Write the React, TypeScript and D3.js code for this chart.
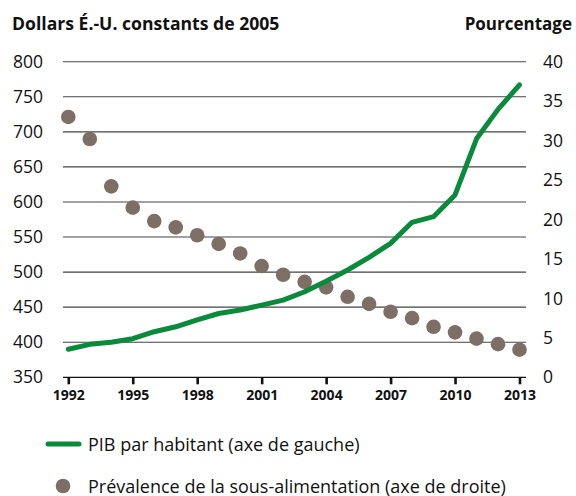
import React, { useEffect, useRef } from "react";
import * as d3 from "d3";

// PIB par habitant (dollars É.-U. constants de 2005), axe de gauche
const years = [1992, 1993, 1994, 1995, 1996, 1997, 1998, 1999, 2000, 2001, 2002,
  2003, 2004, 2005, 2006, 2007, 2008, 2009, 2010, 2011, 2012, 2013];
const gdp = [390, 397, 400, 405, 415, 422, 432, 441, 446, 453, 460,
  472, 487, 503, 521, 541, 571, 579, 610, 690, 732, 767];
// Prévalence de la sous-alimentation (%), axe de droite
const prevalence = [33.0, 30.2, 24.2, 21.5, 19.8, 19.0, 18.0, 16.9, 15.7, 14.1, 13.0,
  12.1, 11.4, 10.2, 9.3, 8.3, 7.5, 6.4, 5.7, 4.9, 4.2, 3.5];
const leftTicks = [350, 400, 450, 500, 550, 600, 650, 700, 750, 800];
const rightTicks = [0, 5, 10, 15, 20, 25, 30, 35, 40];
const xTicks = [1992, 1995, 1998, 2001, 2004, 2007, 2010, 2013];

const W = 576;
const H = 496;
const FONT = "'Open Sans', sans-serif";
const GREEN = "#0a8a3b";
const BROWN = "#7e6f66";

export default function App() {
  const ref = useRef<SVGSVGElement>(null);

  useEffect(() => {
    const svg = d3.select(ref.current);
    svg.selectAll("*").remove();

    const x = d3.scaleLinear().domain([1992, 2013]).range([68.3, 519.5]);
    const yL = d3.scaleLinear().domain([350, 800]).range([377.3, 61.7]);
    const yR = d3.scaleLinear().domain([0, 40]).range([377.3, 61.7]);
    const gridX0 = 63, gridX1 = 526;

    // titles
    svg.append("text").attr("x", 12).attr("y", 30)
      .attr("font-family", FONT).attr("font-weight", "bold").attr("font-size", 17.6)
      .attr("fill", "#111").text("Dollars É.-U. constants de 2005");
    svg.append("text").attr("x", 572).attr("y", 30).attr("text-anchor", "end")
      .attr("font-family", FONT).attr("font-weight", "bold").attr("font-size", 17)
      .attr("fill", "#111").text("Pourcentage");

    // gridlines
    svg.append("g").selectAll("line").data(leftTicks.slice(1)).join("line")
      .attr("x1", gridX0).attr("x2", gridX1)
      .attr("y1", d => yL(d)).attr("y2", d => yL(d))
      .attr("stroke", "#444").attr("stroke-width", 1.1);

    // left labels
    svg.append("g").selectAll("text").data(leftTicks).join("text")
      .attr("x", 43).attr("y", d => yL(d)).attr("dy", "0.35em")
      .attr("text-anchor", "end").attr("font-family", FONT).attr("font-size", 17.5)
      .attr("fill", "#111").text(d => d);

    // right labels
    svg.append("g").selectAll("text").data(rightTicks).join("text")
      .attr("x", 543).attr("y", d => yR(d)).attr("dy", "0.35em")
      .attr("text-anchor", "start").attr("font-family", FONT).attr("font-size", 17.5)
      .attr("fill", "#111").text(d => d);

    // x axis
    const xAxis = d3.axisBottom(x).tickValues(xTicks).tickFormat(d3.format("d"))
      .tickSize(7).tickPadding(6);
    const gx = svg.append("g").attr("transform", `translate(0,${yL(350)})`).call(xAxis);
    gx.select(".domain").attr("d", `M${gridX0},0H${gridX1}`).attr("stroke", "#111").attr("stroke-width", 1.3);
    gx.selectAll(".tick line").attr("stroke", "#111").attr("stroke-width", 2.6);
    gx.selectAll(".tick text").attr("font-family", FONT).attr("font-weight", "bold")
      .attr("font-size", 14).attr("fill", "#111");

    // dots
    svg.append("g").selectAll("circle").data(years).join("circle")
      .attr("cx", d => x(d)).attr("cy", (d, i) => yR(prevalence[i])).attr("r", 7.3)
      .attr("fill", BROWN);

    // line
    const line = d3.line<number>().x(d => x(d)).y((d, i) => yL(gdp[i]));
    svg.append("path").datum(years).attr("d", line).attr("fill", "none")
      .attr("stroke", GREEN).attr("stroke-width", 5)
      .attr("stroke-linejoin", "round").attr("stroke-linecap", "round");

    // legend
    const lg = svg.append("g");
    lg.append("line").attr("x1", 48).attr("x2", 79).attr("y1", 444).attr("y2", 444)
      .attr("stroke", GREEN).attr("stroke-width", 5).attr("stroke-linecap", "round");
    lg.append("text").attr("x", 88).attr("y", 450.5).attr("font-family", FONT)
      .attr("font-size", 18).attr("fill", "#111").text("PIB par habitant (axe de gauche)");
    lg.append("circle").attr("cx", 63).attr("cy", 486).attr("r", 7.3).attr("fill", BROWN);
    lg.append("text").attr("x", 88).attr("y", 492.5).attr("font-family", FONT)
      .attr("font-size", 18).attr("fill", "#111")
      .text("Prévalence de la sous-alimentation (axe de droite)");
  }, []);

  return (
    <svg ref={ref} width={W} height={H}
      style={{ position: "absolute", left: 0, top: 0, background: "#fff" }} />
  );
}
